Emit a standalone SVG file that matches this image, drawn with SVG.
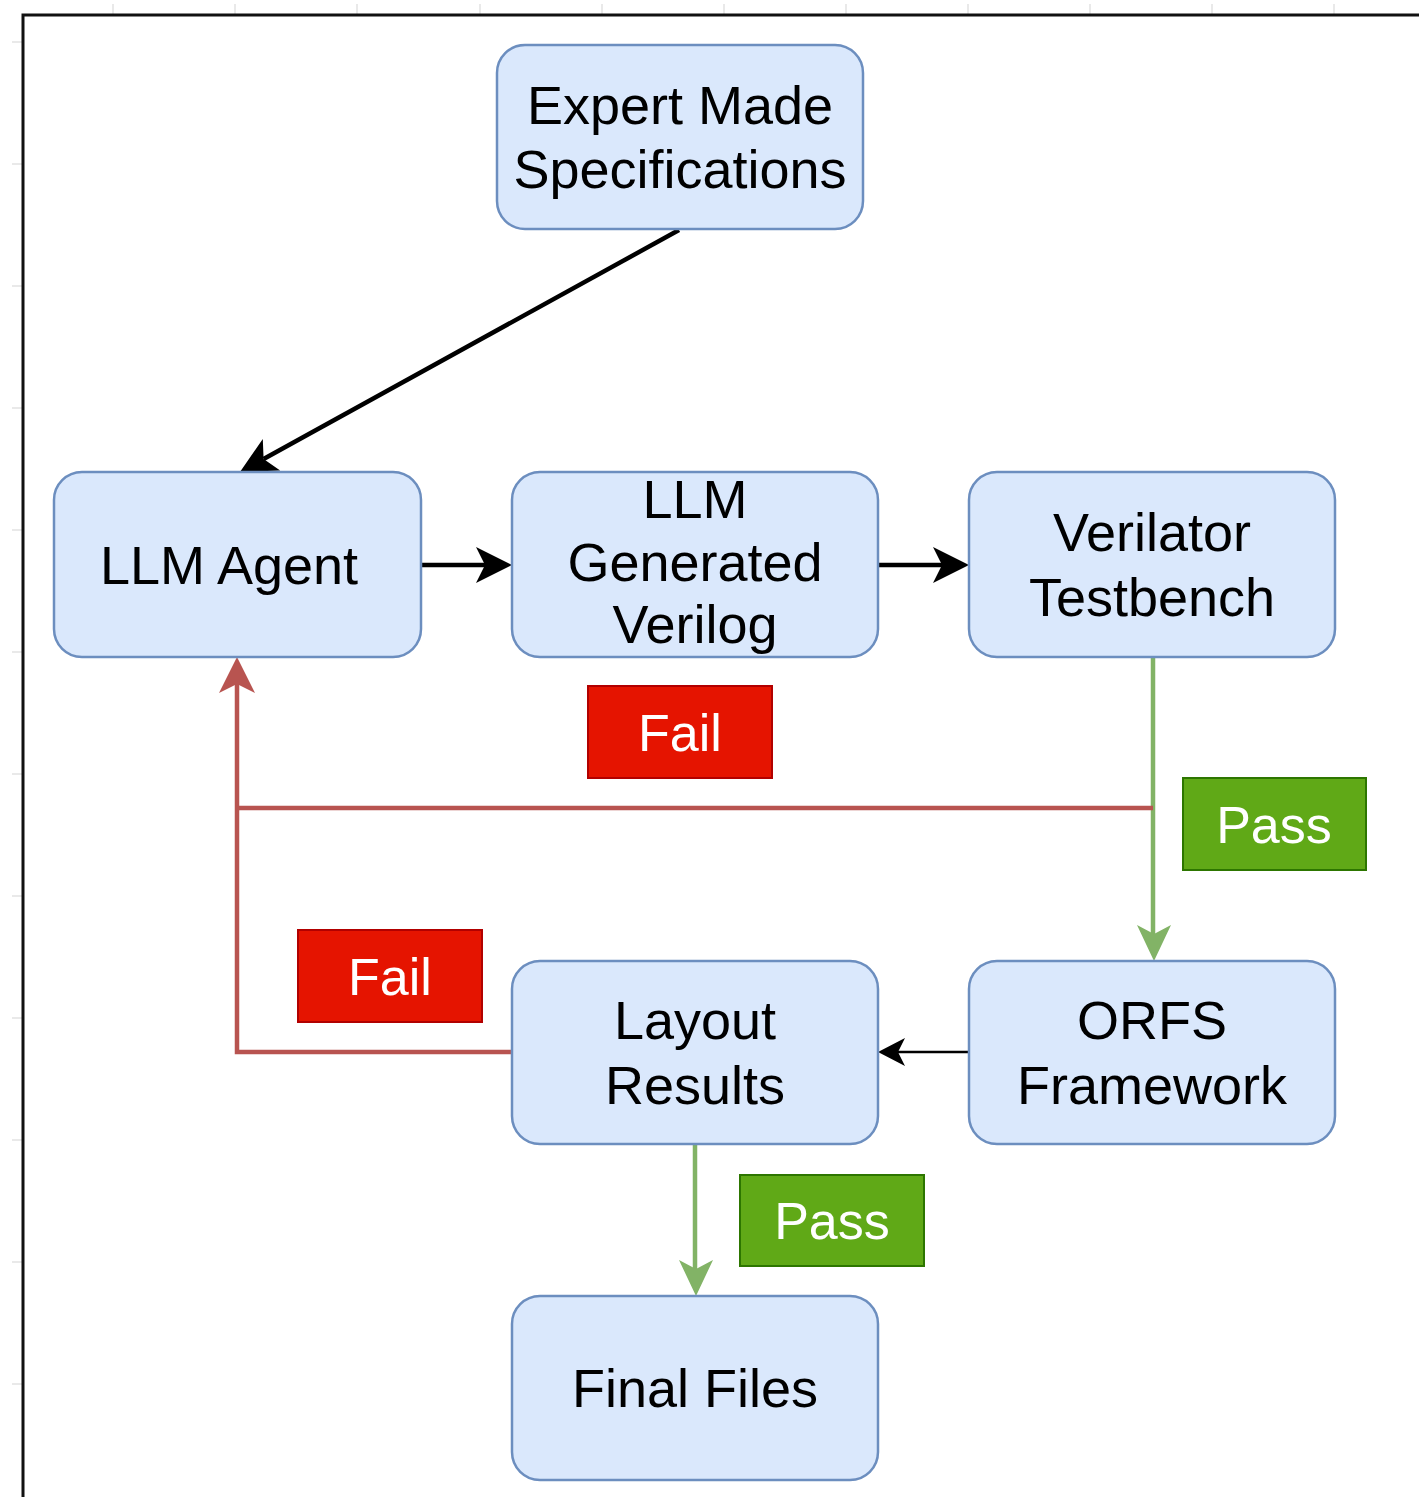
<svg xmlns="http://www.w3.org/2000/svg" width="1419" height="1497" viewBox="0 0 1419 1497">
  <style>
    .node { fill: #dae8fc; stroke: #6c8ebf; stroke-width: 2.5; }
    .ntext { font-family: "Liberation Sans", Arial, sans-serif; font-size: 54px; fill: #000; text-anchor: middle; }
    .ltext { font-family: "Liberation Sans", Arial, sans-serif; font-size: 52px; fill: #fff; text-anchor: middle; }
    .fail { fill: #e51400; stroke: #b20000; stroke-width: 2; }
    .pass { fill: #60a917; stroke: #2d7600; stroke-width: 2; }
    .blk { fill: none; stroke: #000; stroke-width: 4.5; }
    .thin { fill: none; stroke: #000; stroke-width: 2.5; }
    .red { fill: none; stroke: #b85450; stroke-width: 4.5; }
    .grn { fill: none; stroke: #82b366; stroke-width: 4.5; }
    .tick { stroke: #e2e2e2; stroke-width: 1.5; }
  </style>
  <defs>
    <marker id="arrBlack" markerUnits="userSpaceOnUse" markerWidth="36" markerHeight="36" refX="9" refY="18" orient="auto" overflow="visible">
      <path d="M0,0 L36,18 L0,36 L9,18 Z" fill="#000"/>
    </marker>
    <marker id="arrRed" markerUnits="userSpaceOnUse" markerWidth="36" markerHeight="36" refX="9" refY="18" orient="auto" overflow="visible">
      <path d="M0,0 L36,18 L0,36 L9,18 Z" fill="#b85450"/>
    </marker>
    <marker id="arrGreen" markerUnits="userSpaceOnUse" markerWidth="36" markerHeight="36" refX="9" refY="18" orient="auto" overflow="visible">
      <path d="M0,0 L36,17 L0,34 L9,17 Z" fill="#82b366"/>
    </marker>
    <marker id="arrThin" markerUnits="userSpaceOnUse" markerWidth="28" markerHeight="28" refX="7" refY="14" orient="auto" overflow="visible">
      <path d="M0,0 L27,14 L0,28 L7,14 Z" fill="#000"/>
    </marker>
  </defs>

  <rect x="0" y="0" width="1419" height="1497" fill="#fff"/>

  <!-- page ruler ticks -->
  <g id="ruler">
    <path class="tick" d="M113,4 V14 M235,4 V14 M357,4 V14 M480,4 V14 M602,4 V14 M724,4 V14 M846,4 V14 M968,4 V14 M1090,4 V14 M1212,4 V14 M1334,4 V14"/>
    <path class="tick" d="M12,42 H22 M12,164 H22 M12,286 H22 M12,408 H22 M12,530 H22 M12,652 H22 M12,774 H22 M12,896 H22 M12,1018 H22 M12,1140 H22 M12,1262 H22 M12,1384 H22"/>
  </g>

  <!-- frame -->
  <path d="M23,1497 V15 H1419" fill="none" stroke="#111" stroke-width="3"/>

  <!-- connectors -->
  <g id="connectors">
    <path class="blk" d="M679,230 L263.6,459" marker-end="url(#arrBlack)"/>
    <path class="blk" d="M421,565 H485" marker-end="url(#arrBlack)"/>
    <path class="blk" d="M878,565 H942" marker-end="url(#arrBlack)"/>
    <path class="grn" d="M1153,657 V934" marker-end="url(#arrGreen)"/>
    <path class="red" d="M1153,808 H237"/>
    <path class="red" d="M512,1052 H237 V684" marker-end="url(#arrRed)"/>
    <path class="thin" d="M969,1052 H898" marker-end="url(#arrThin)"/>
    <path class="grn" d="M695,1144 V1269" marker-end="url(#arrGreen)"/>
  </g>

  <!-- nodes -->
  <g id="expert-specs">
    <rect class="node" x="497" y="45" width="366" height="184" rx="28"/>
    <text class="ntext" x="680" y="124">Expert Made</text>
    <text class="ntext" x="680" y="188">Specifications</text>
  </g>
  <g id="llm-agent">
    <rect class="node" x="54" y="472" width="367" height="185" rx="28"/>
    <text class="ntext" x="229" y="584">LLM Agent</text>
  </g>
  <g id="llm-verilog">
    <rect class="node" x="512" y="472" width="366" height="185" rx="28"/>
    <text class="ntext" x="695" y="518">LLM</text>
    <text class="ntext" x="695" y="581">Generated</text>
    <text class="ntext" x="695" y="643">Verilog</text>
  </g>
  <g id="verilator-tb">
    <rect class="node" x="969" y="472" width="366" height="185" rx="28"/>
    <text class="ntext" x="1152" y="551">Verilator</text>
    <text class="ntext" x="1152" y="616">Testbench</text>
  </g>
  <g id="orfs">
    <rect class="node" x="969" y="961" width="366" height="183" rx="28"/>
    <text class="ntext" x="1152" y="1039">ORFS</text>
    <text class="ntext" x="1152" y="1104">Framework</text>
  </g>
  <g id="layout-results">
    <rect class="node" x="512" y="961" width="366" height="183" rx="28"/>
    <text class="ntext" x="695" y="1039">Layout</text>
    <text class="ntext" x="695" y="1104">Results</text>
  </g>
  <g id="final-files">
    <rect class="node" x="512" y="1296" width="366" height="184" rx="28"/>
    <text class="ntext" x="695" y="1407">Final Files</text>
  </g>

  <!-- outcome labels -->
  <g id="fail-sim">
    <rect class="fail" x="588" y="686" width="184" height="92"/>
    <text class="ltext" x="680" y="751">Fail</text>
  </g>
  <g id="pass-sim">
    <rect class="pass" x="1183" y="778" width="183" height="92"/>
    <text class="ltext" x="1274" y="843">Pass</text>
  </g>
  <g id="fail-layout">
    <rect class="fail" x="298" y="930" width="184" height="92"/>
    <text class="ltext" x="390" y="995">Fail</text>
  </g>
  <g id="pass-layout">
    <rect class="pass" x="740" y="1175" width="184" height="91"/>
    <text class="ltext" x="832" y="1239">Pass</text>
  </g>
</svg>
